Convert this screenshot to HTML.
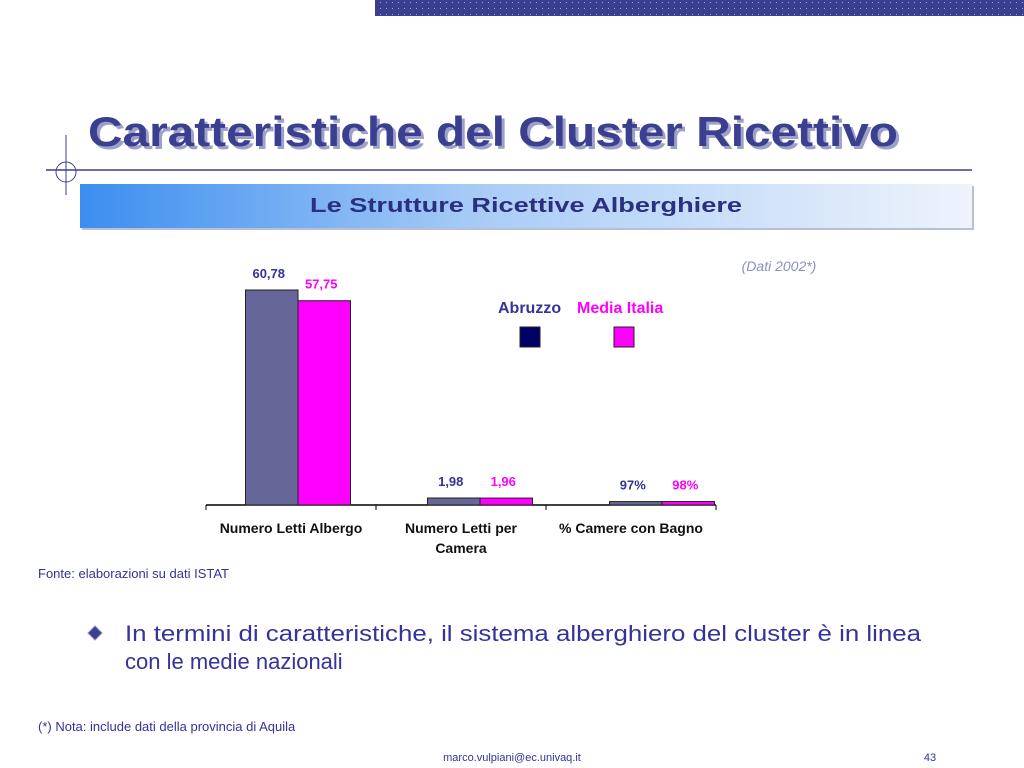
<!DOCTYPE html>
<html><head><meta charset="utf-8"><style>
html,body{margin:0;padding:0;background:#fff;}
svg{display:block;font-family:"Liberation Sans",sans-serif;}
</style></head><body>
<svg id="slide" width="1024" height="768" viewBox="0 0 1024 768" xmlns="http://www.w3.org/2000/svg">
<defs>
<pattern id="dots" width="6" height="6" patternUnits="userSpaceOnUse"><rect width="6" height="6" fill="#3a3f8f"/><rect x="2" y="2" width="1" height="1" fill="#9aa0d8"/></pattern>
<linearGradient id="ban" x1="0" x2="1"><stop offset="0" stop-color="#3b8ef0"/><stop offset="0.45" stop-color="#a9ccf6"/><stop offset="1" stop-color="#eef3fc"/></linearGradient>
</defs>
<rect x="375" y="0" width="649" height="16" fill="url(#dots)"/>
<text x="91" y="149" font-size="42" font-weight="bold" fill="#9da0c8" textLength="810" lengthAdjust="spacingAndGlyphs">Caratteristiche del Cluster Ricettivo</text>
<text x="88" y="146" font-size="42" font-weight="bold" fill="#3a3f8f" textLength="810" lengthAdjust="spacingAndGlyphs">Caratteristiche del Cluster Ricettivo</text>
<line x1="46" y1="170" x2="972" y2="170" stroke="#3a3f8f" stroke-width="1.5"/>
<line x1="66" y1="135" x2="66" y2="195" stroke="#3a3f8f" stroke-width="1"/>
<circle cx="66" cy="172" r="10" fill="none" stroke="#3a3f8f" stroke-width="1"/>
<rect x="82" y="186" width="892" height="44" fill="#b8bfd8"/>
<rect x="80" y="184" width="892" height="44" fill="url(#ban)"/>
<text x="526" y="212" font-size="20" font-weight="bold" fill="#2b2f80" text-anchor="middle" textLength="432" lengthAdjust="spacingAndGlyphs">Le Strutture Ricettive Alberghiere</text>
<text x="779" y="271" font-size="14" font-style="italic" fill="#8a8fc0" text-anchor="middle">(Dati 2002*)</text>
<g id="chart"></g>
<text x="498" y="313" font-size="16" font-weight="bold" fill="#333399">Abruzzo</text>
<text x="577" y="313" font-size="16" font-weight="bold" fill="#ff00ff">Media Italia</text>
<rect x="520" y="327" width="20" height="20" fill="#000066" stroke="#222" stroke-width="1"/>
<rect x="614" y="327" width="20" height="20" fill="#ff00ff" stroke="#222" stroke-width="1"/>
<text x="38" y="578" font-size="13" fill="#333399">Fonte: elaborazioni su dati ISTAT</text>
<path d="M95 626 L102 633 L95 640 L88 633 Z" fill="#3a3f8f" stroke="#8888cc"/>
<text font-size="22" fill="#333399"><tspan x="125" y="641" textLength="796" lengthAdjust="spacingAndGlyphs">In termini di caratteristiche, il sistema alberghiero del cluster è in linea</tspan><tspan x="125" y="669">con le medie nazionali</tspan></text>
<text x="38" y="731" font-size="13" fill="#333399">(*) Nota: include dati della provincia di Aquila</text>
<text x="512" y="761" font-size="11" fill="#333399" text-anchor="middle">marco.vulpiani@ec.univaq.it</text>
<text x="930" y="761" font-size="11" fill="#333399" text-anchor="middle">43</text>
</svg>
<script>
const categories = ["Numero Letti Albergo", "Numero Letti per|Camera", "% Camere con Bagno"];
const abruzzoValues = [60.78, 1.98, 0.97];
const italiaValues = [57.75, 1.96, 0.98];
const abruzzoLabels = ["60,78", "1,98", "97%"];
const italiaLabels = ["57,75", "1,96", "98%"];

const NS = "http://www.w3.org/2000/svg";
const g = document.getElementById("chart");
const baseY = 505, pxPerUnit = 215 / 60.78;
const yScale = v => baseY - v * pxPerUnit;
const axisLeft = 206, catW = 170;
const catCenter = i => axisLeft + catW * (i + 0.5);
const groupCenter = i => 298 + i * 182;
const barW = 52.5;
function mk(tag, attrs) { const e = document.createElementNS(NS, tag); for (const k in attrs) e.setAttribute(k, attrs[k]); g.appendChild(e); return e; }

const axis = mk("line", {x1: axisLeft, y1: baseY, x2: axisLeft + catW * categories.length, y2: baseY, stroke: "#000", "stroke-width": 1.5});


for (let i = 0; i <= categories.length; i++) {
  const t = mk("line", {x1: axisLeft + catW * i, y1: baseY, x2: axisLeft + catW * i, y2: baseY + 5, stroke: "#000"});
  
  
}
categories.forEach((c, i) => {
  const cx = groupCenter(i);
  const ya = yScale(abruzzoValues[i]), yi = yScale(italiaValues[i]);
  const ba = mk("rect", {x: cx - barW, y: ya, width: barW, height: baseY - ya, fill: "#666699", stroke: "#222", "stroke-width": 1});
  
  
  const bi = mk("rect", {x: cx, y: yi, width: barW, height: baseY - yi, fill: "#ff00ff", stroke: "#222", "stroke-width": 1});
  
  
  const la = mk("text", {x: cx - barW / 2 - 3, y: Math.min(ya, yi) - 12 + (i === 0 ? 0 : 0), "font-size": 13, "font-weight": "bold", fill: "#333399", "text-anchor": "middle"});
  la.textContent = abruzzoLabels[i];
  
  
  const li = mk("text", {x: cx + barW / 2 - 3, y: i === 0 ? yi - 12 : Math.min(ya, yi) - 12, "font-size": 13, "font-weight": "bold", fill: "#ff00ff", "text-anchor": "middle"});
  li.textContent = italiaLabels[i];
  
  
  const parts = c.split("|");
  parts.forEach((p, k) => {
    const t = mk("text", {x: catCenter(i), y: 533 + k * 20, "font-size": 14, "font-weight": "bold", fill: "#111", "text-anchor": "middle"});
    t.textContent = p;
    
    
  });
});
</script>
</body></html>
